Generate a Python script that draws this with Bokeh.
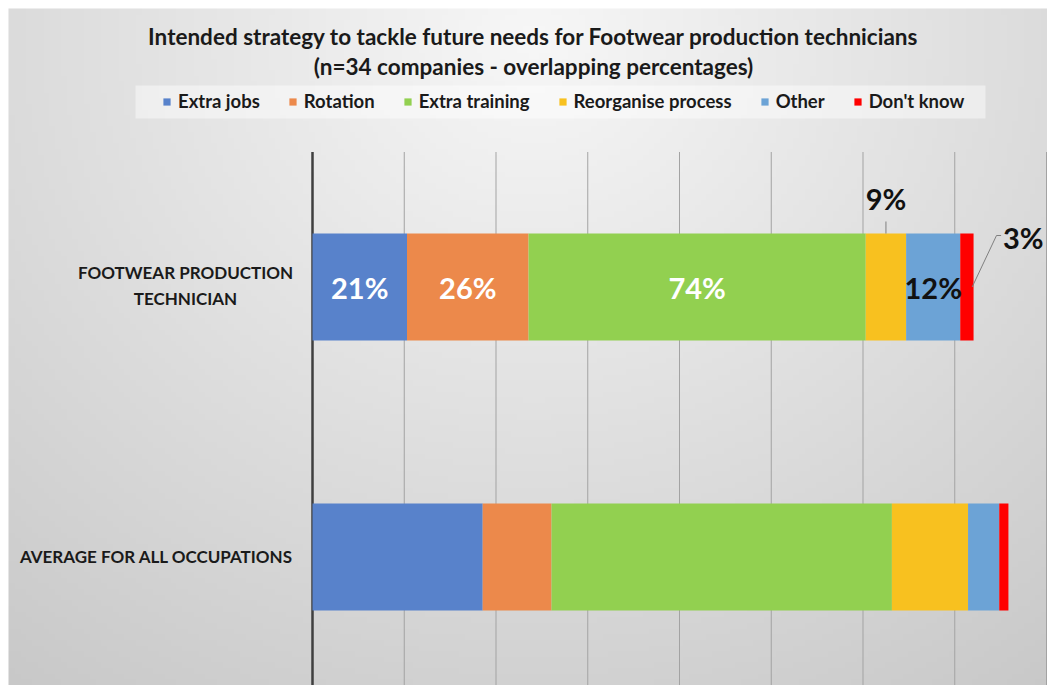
import numpy as np
from bokeh.plotting import figure
from bokeh.models import Range1d, Label, Legend, LegendItem, ColumnDataSource, BoxAnnotation
from bokeh.core.properties import value
from bokeh.embed import file_html
from bokeh.resources import INLINE

# ---------------- data ----------------
title_lines = ["Intended strategy to tackle future needs for Footwear production technicians",
               "(n=34 companies - overlapping percentages)"]
series = ["Extra jobs", "Rotation", "Extra training", "Reorganise process", "Other", "Don't know"]
colors = ["#5882CB", "#EC894B", "#92D050", "#F8C11F", "#6CA3D6", "#FF0000"]
categories = ["AVERAGE FOR ALL OCCUPATIONS", "FOOTWEAR PRODUCTION\nTECHNICIAN"]
footwear = [20.6, 26.5, 73.5, 8.8, 11.8, 2.9]
average = [37.1, 15.0, 74.2, 16.6, 6.8, 2.0]
footwear_labels = ["21%", "26%", "74%", "9%", "12%", "3%"]
grid_ticks = [20, 40, 60, 80, 100, 120, 140, 160]

# ---------------- layout constants ----------------
W, H = 1047, 685
X0 = 312.0        # screen x of value 0
S = 4.5875        # px per percent
ROW = 270.0       # px per category band
Y1 = 421.5        # screen y of band boundary 1.0
BAR_H = 0.396
M = 8             # white margin around chart area (top/left)

def dx(sx):
    return (sx - X0) / S

def dy(sy):
    return 1 + (Y1 - sy) / ROW

def ly(sy):
    return H - sy

p = figure(width=W, height=H, output_backend="svg", toolbar_location=None,
           x_range=Range1d(dx(0), dx(W)), y_range=Range1d(dy(H), dy(0)),
           min_border=0, title=None)
p.xaxis.visible = False
p.yaxis.visible = False
p.xgrid.visible = False
p.ygrid.visible = False
p.outline_line_color = None
p.background_fill_color = "white"
p.border_fill_color = None

# background radial gradient of the chart area
ny, nx = 120, 180
aw, ah = W - M, H - M
gx = M + (np.arange(nx) + 0.5) / nx * aw
gy_top = H - (np.arange(ny) + 0.5) / ny * ah      # row 0 at bottom
GX, GY = np.meshgrid(gx, gy_top)
d = np.sqrt((GX - 533) ** 2 + ((GY - 40) * 1.1) ** 2)
g = np.clip(247 - 0.053 * d, 196, 250).astype(np.uint8)
img = np.empty((ny, nx), dtype=np.uint32)
view = img.view(dtype=np.uint8).reshape((ny, nx, 4))
view[:, :, 0] = g
view[:, :, 1] = g
view[:, :, 2] = g
view[:, :, 3] = 255
p.image_rgba(image=[img], x=dx(M), y=dy(H), dw=dx(W) - dx(M), dh=dy(M) - dy(H), level="image")

# gridlines (from band top down)
top = 2.0
bottom = dy(H)
p.segment(x0=grid_ticks, y0=[top] * len(grid_ticks), x1=grid_ticks, y1=[bottom] * len(grid_ticks),
          line_color="#a3a3a3", line_width=1)
# category axis line
p.segment(x0=[0], y0=[top], x1=[0], y1=[bottom], line_color="#3f3f3f", line_width=2.5)

# stacked bars
ys = [i + 0.5 for i in range(len(categories))]
data = {"y": ys}
for i, s in enumerate(series):
    data[s] = [average[i], footwear[i]]
source = ColumnDataSource(data)
renderers = p.hbar_stack(series, y="y", height=BAR_H, color=colors, source=source,
                         line_color=None)

# data labels for the footwear row
fy = ys[1]
cum = np.cumsum([0] + footwear)
centers = [(cum[i] + cum[i + 1]) / 2 for i in range(len(footwear))]
lab_font = value("Lato")
lab_size = "29px"
p.text(x=centers[:3], y=[fy] * 3, text=footwear_labels[:3], text_color="white",
       text_font=lab_font, text_font_style="bold", text_font_size=lab_size,
       text_align="center", text_baseline="middle")
p.text(x=[centers[4]], y=[fy], text=[footwear_labels[4]], text_color="#111111",
       text_font=lab_font, text_font_style="bold", text_font_size=lab_size,
       text_align="center", text_baseline="middle")
# 9% callout
p.segment(x0=[centers[3]], y0=[fy + BAR_H / 2], x1=[centers[3]], y1=[dy(221)],
          line_color="#7f7f7f", line_width=1)
p.text(x=[centers[3]], y=[dy(198)], text=[footwear_labels[3]], text_color="#111111",
       text_font=lab_font, text_font_style="bold", text_font_size=lab_size,
       text_align="center", text_baseline="middle")
# 3% callout
e = cum[-1]
p.line(x=[e - 0.3, e + 5.0, e + 6.0], y=[fy, dy(235), dy(235)], line_color="#7f7f7f", line_width=1)
p.text(x=[dx(1043)], y=[dy(237)], text=[footwear_labels[5]], text_color="#111111",
       text_font=lab_font, text_font_style="bold", text_font_size=lab_size,
       text_align="right", text_baseline="middle")

# titles
for txt, sy in zip(title_lines, [36, 66]):
    p.add_layout(Label(x=533, y=ly(sy), x_units="screen", y_units="screen", text=txt,
                       text_font="Lato", text_font_style="bold", text_font_size="22.5px",
                       text_color="#1a1a1a", text_align="center", text_baseline="middle"))

# category labels
p.add_layout(Label(x=156, y=ly(556), x_units="screen", y_units="screen", text=categories[0],
                   text_font="Lato", text_font_style="bold", text_font_size="17px",
                   text_color="#1a1a1a", text_align="center", text_baseline="middle"))
p.add_layout(Label(x=185, y=ly(285), x_units="screen", y_units="screen", text=categories[1],
                   text_font="Lato", text_font_style="bold", text_font_size="17px",
                   text_color="#1a1a1a", text_align="center", text_baseline="middle",
                   text_line_height=1.25))

# legend background box
p.add_layout(BoxAnnotation(left=135, right=985, top=ly(85), bottom=ly(118),
                           left_units="screen", right_units="screen",
                           top_units="screen", bottom_units="screen",
                           fill_color="white", fill_alpha=0.45, line_color=None))
legend = Legend(items=[LegendItem(label=s, renderers=[r]) for s, r in zip(series, renderers)],
                orientation="horizontal", location=(162, ly(112)),
                label_text_font="Lato", label_text_font_style="bold", label_text_font_size="18.5px",
                label_text_color="#1a1a1a", glyph_width=9, glyph_height=9, label_standoff=7,
                spacing=28, padding=0, margin=0, border_line_color=None,
                background_fill_alpha=0)
p.add_layout(legend)

open("out.html", "w").write(file_html(p, INLINE))
